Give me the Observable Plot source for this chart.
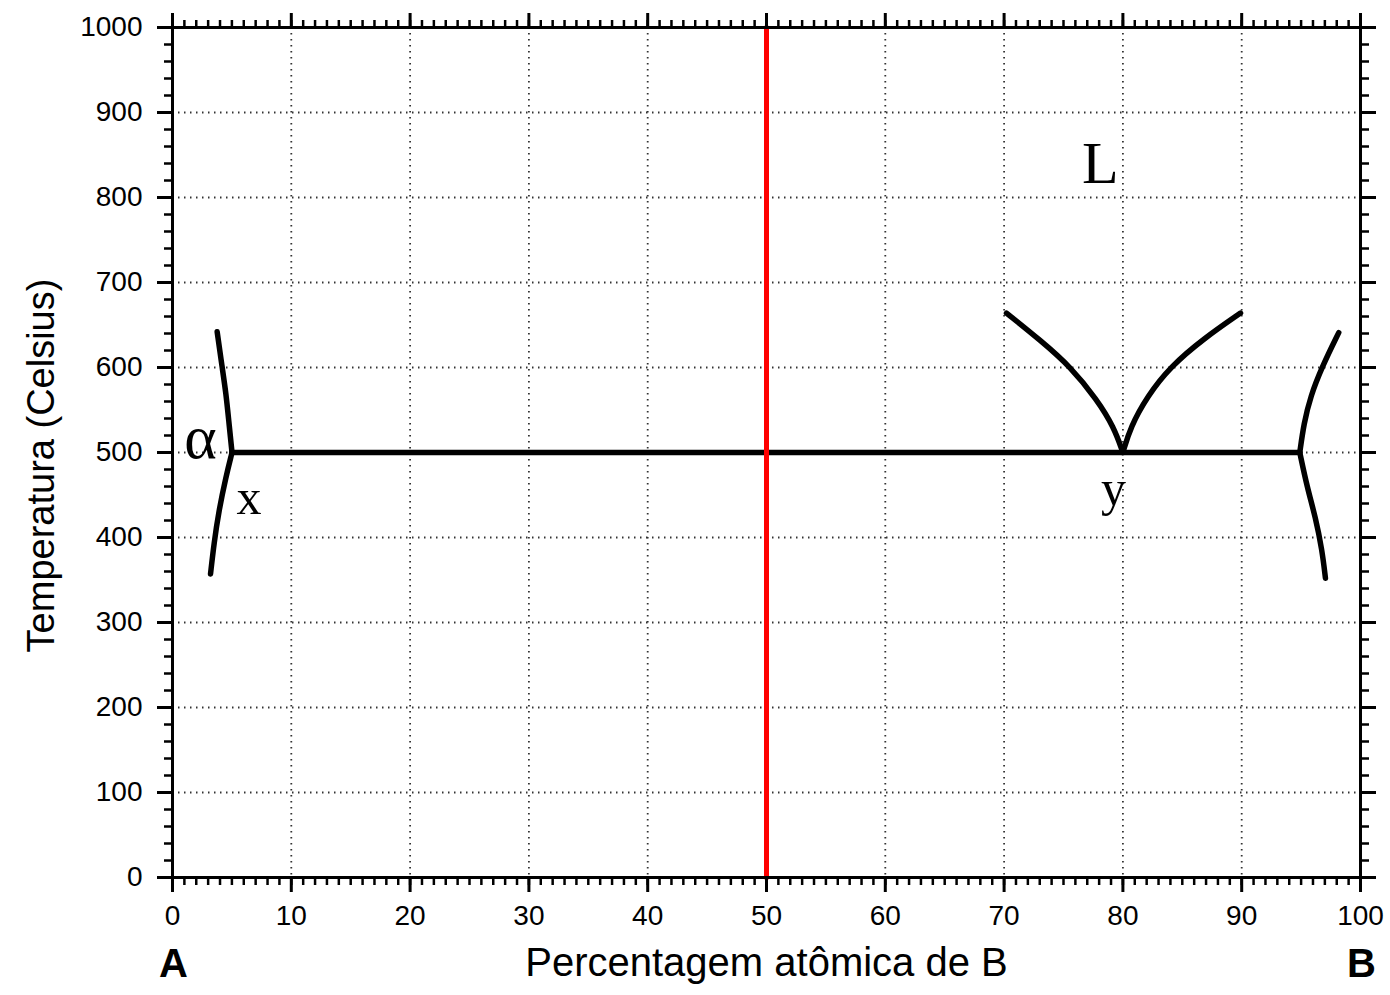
<!DOCTYPE html>
<html>
<head>
<meta charset="utf-8">
<script src="https://cdn.jsdelivr.net/npm/d3@7"></script>
<script src="https://cdn.jsdelivr.net/npm/@observablehq/plot@0.6"></script>
<style>
  html, body { margin: 0; padding: 0; background: #fff; }
</style>
</head>
<body>
<div id="chart"></div>
<script>
// ---- data (x = atomic % B, T = temperature in °C) ----
const xMajorTicks = [0, 10, 20, 30, 40, 50, 60, 70, 80, 90, 100];
const yMajorTicks = [0, 100, 200, 300, 400, 500, 600, 700, 800, 900, 1000];

const leftUpperX = [3.76, 4.17, 4.50, 4.73, 5.01];
const leftUpperT = [642, 601, 570, 538, 500];
const leftLowerX = [5.01, 4.49, 3.91, 3.49, 3.20];
const leftLowerT = [500, 471, 432, 393, 357];

const rightUpperX = [98.17, 96.77, 95.79, 95.23, 94.89];
const rightUpperT = [641, 601, 566, 534, 500];
const rightLowerX = [94.89, 95.51, 96.21, 96.77, 97.05];
const rightLowerT = [500, 459, 424, 385, 352];

const liquidusLeftX = [70.2, 73.06, 75.59, 77.83, 79.24, 80.0];
const liquidusLeftT = [664, 632, 601, 562, 530, 500];
const liquidusRightX = [80.0, 80.64, 82.05, 84.0, 86.8, 89.9];
const liquidusRightT = [500, 530, 566, 601, 634, 664];

const eutecticX = [5.01, 94.89];
const eutecticT = [500, 500];

const compositionX = [50, 50];
const compositionT = [0, 1000];

const phaseLabels = ["α", "x", "y", "L"];
const phaseLabelX = [2.35, 6.44, 79.2, 78.1];
const phaseLabelT = [517, 447, 457, 840];
const phaseLabelSize = [62, 50, 50, 60];

const endMembers = ["A", "B"];
const endMemberX = [0, 100];

const xTitle = "Percentagem atômica de B";
const yTitle = "Temperatura (Celsius)";

// ---- build tables ----
function rows(name, xs, ts) { return xs.map((x, i) => ({curve: name, x, T: ts[i]})); }
const curves = [
  ...rows("leftUpper", leftUpperX, leftUpperT),
  ...rows("leftLower", leftLowerX, leftLowerT),
  ...rows("rightUpper", rightUpperX, rightUpperT),
  ...rows("rightLower", rightLowerX, rightLowerT),
  ...rows("liqL", liquidusLeftX, liquidusLeftT),
  ...rows("liqR", liquidusRightX, liquidusRightT)
];
const eutectic = rows("eut", eutecticX, eutecticT);
const composition = rows("comp", compositionX, compositionT);
const labels = phaseLabels.map((t, i) => ({text: t, x: phaseLabelX[i], T: phaseLabelT[i], size: phaseLabelSize[i]}));

const xMinor = d3.range(0, 101, 1);
const yMinor = d3.range(0, 1001, 20);
const fmt = (d) => String(d);

const chart = Plot.plot({
  width: 1390,
  height: 995,
  marginLeft: 172,
  marginRight: 30,
  marginTop: 27,
  marginBottom: 118,
  style: {background: "#fff", fontFamily: "'Liberation Sans', Arial, sans-serif", color: "#000", overflow: "visible"},
  x: {domain: [0, 100]},
  y: {domain: [0, 1000]},
  marks: [
    Plot.gridX(xMajorTicks.slice(1, -1), {stroke: "#333", strokeOpacity: 1, strokeWidth: 1.8, strokeDasharray: "1.5,4.5"}),
    Plot.gridY(yMajorTicks.slice(1, -1), {stroke: "#333", strokeOpacity: 1, strokeWidth: 1.8, strokeDasharray: "1.5,4.5"}),
    Plot.line(eutectic, {x: "x", y: "T", stroke: "#000", strokeWidth: 5.5}),
    Plot.line(curves, {x: "x", y: "T", z: "curve", stroke: "#000", strokeWidth: 5.5, curve: "basis"}),
    Plot.line(composition, {x: "x", y: "T", stroke: "#ff0000", strokeWidth: 5}),
    Plot.frame({stroke: "#000", strokeWidth: 3}),
    // bottom axis
    Plot.axisX(xMinor, {anchor: "bottom", tickSize: 8, strokeWidth: 2.5, text: null, label: null}),
    Plot.axisX(xMajorTicks, {anchor: "bottom", tickSize: 15, tickPadding: 13, strokeWidth: 3, fontSize: 28, label: null, tickFormat: fmt}),
    // top axis
    Plot.axisX(xMinor, {anchor: "top", tickSize: 8, strokeWidth: 2.5, text: null, label: null}),
    Plot.axisX(xMajorTicks, {anchor: "top", tickSize: 15, strokeWidth: 3, text: null, label: null}),
    // left axis
    Plot.axisY(yMinor, {anchor: "left", tickSize: 8, strokeWidth: 2.5, text: null, label: null}),
    Plot.axisY(yMajorTicks, {anchor: "left", tickSize: 15, tickPadding: 15, strokeWidth: 3, fontSize: 28, label: null, tickFormat: fmt}),
    // right axis
    Plot.axisY(yMinor, {anchor: "right", tickSize: 8, strokeWidth: 2.5, text: null, label: null}),
    Plot.axisY(yMajorTicks, {anchor: "right", tickSize: 15, strokeWidth: 3, text: null, label: null}),
    // phase labels
    Plot.text(labels, {x: "x", y: "T", text: "text", fontSize: (d) => d.size, fontFamily: "'Liberation Serif', 'Times New Roman', serif", fill: "#000", textAnchor: "middle", lineAnchor: "middle"}),
    // end members A, B
    Plot.text(endMembers, {x: (d, i) => endMemberX[i], frameAnchor: "bottom", dy: 87, dx: 1, text: (d) => d, fontSize: 40, fontWeight: "bold", fill: "#000", lineAnchor: "middle"}),
    // axis titles
    Plot.text([xTitle], {frameAnchor: "bottom", dy: 86, text: (d) => d, fontSize: 40, fill: "#000", textAnchor: "middle", lineAnchor: "middle"}),
    Plot.text([yTitle], {frameAnchor: "left", dx: -131, dy: 13, rotate: -90, text: (d) => d, fontSize: 38, fill: "#000", textAnchor: "middle", lineAnchor: "middle"})
  ]
});
document.getElementById("chart").appendChild(chart);
</script>
</body>
</html>
